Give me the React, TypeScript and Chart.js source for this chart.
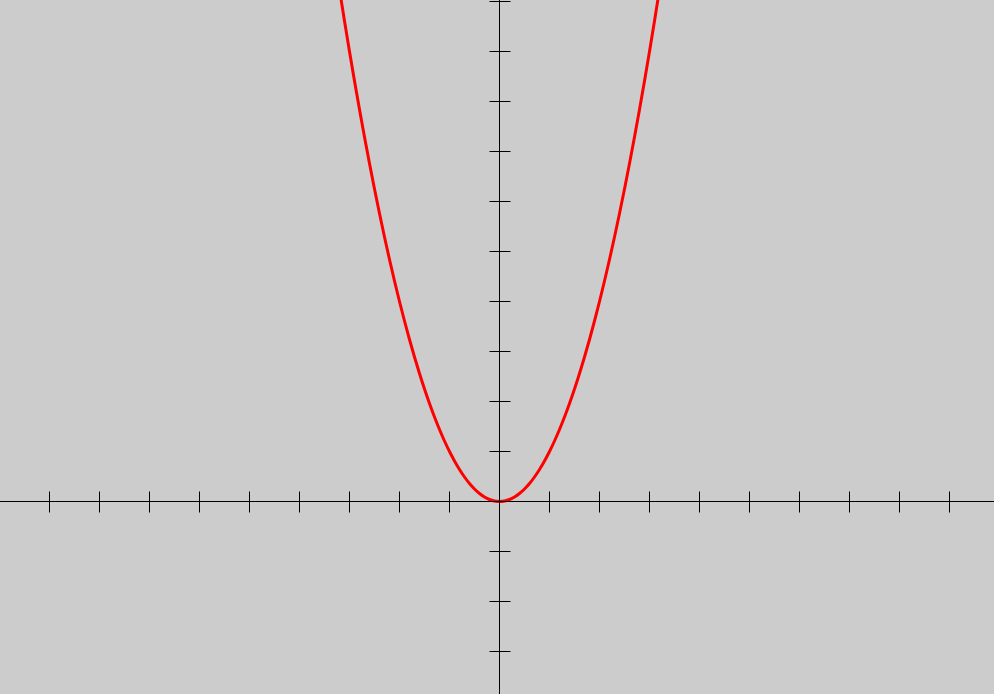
import React, { useEffect, useRef } from "react";
import { Chart, registerables } from "chart.js";

Chart.register(...registerables);

const xValues = [
  -3.2, -3.1, -3.0, -2.9, -2.8, -2.7, -2.6, -2.5, -2.4, -2.3, -2.2, -2.1, -2.0,
  -1.9, -1.8, -1.7, -1.6, -1.5, -1.4, -1.3, -1.2, -1.1, -1.0, -0.9, -0.8, -0.7,
  -0.6, -0.5, -0.4, -0.3, -0.2, -0.1, 0, 0.1, 0.2, 0.3, 0.4, 0.5, 0.6, 0.7, 0.8,
  0.9, 1.0, 1.1, 1.2, 1.3, 1.4, 1.5, 1.6, 1.7, 1.8, 1.9, 2.0, 2.1, 2.2, 2.3, 2.4,
  2.5, 2.6, 2.7, 2.8, 2.9, 3.0, 3.1, 3.2,
];
const yValues = [
  10.24, 9.61, 9.0, 8.41, 7.84, 7.29, 6.76, 6.25, 5.76, 5.29, 4.84, 4.41, 4.0,
  3.61, 3.24, 2.89, 2.56, 2.25, 1.96, 1.69, 1.44, 1.21, 1.0, 0.81, 0.64, 0.49,
  0.36, 0.25, 0.16, 0.09, 0.04, 0.01, 0, 0.01, 0.04, 0.09, 0.16, 0.25, 0.36, 0.49,
  0.64, 0.81, 1.0, 1.21, 1.44, 1.69, 1.96, 2.25, 2.56, 2.89, 3.24, 3.61, 4.0,
  4.41, 4.84, 5.29, 5.76, 6.25, 6.76, 7.29, 7.84, 8.41, 9.0, 9.61, 10.24,
];
const xTicks = [-9, -8, -7, -6, -5, -4, -3, -2, -1, 1, 2, 3, 4, 5, 6, 7, 8, 9];
const yTicks = [-3, -2, -1, 1, 2, 3, 4, 5, 6, 7, 8, 9, 10];

const axesPlugin = {
  id: "centerAxes",
  afterDatasetsDraw(chart: any) {
    const ctx = chart.ctx;
    const xs = chart.scales.x;
    const ys = chart.scales.y;
    const area = chart.chartArea;
    const ox = Math.floor(xs.getPixelForValue(0)) + 0.5;
    const oy = Math.floor(ys.getPixelForValue(0)) + 0.5;
    ctx.save();
    ctx.strokeStyle = "#000000";
    ctx.lineWidth = 1;
    ctx.beginPath();
    ctx.moveTo(area.left, oy);
    ctx.lineTo(area.right, oy);
    ctx.moveTo(ox, area.top);
    ctx.lineTo(ox, area.bottom);
    const len = 10;
    for (const t of xTicks) {
      const px = Math.floor(xs.getPixelForValue(t)) + 0.5;
      ctx.moveTo(px, oy - len);
      ctx.lineTo(px, oy + len + 1);
    }
    for (const t of yTicks) {
      const py = Math.floor(ys.getPixelForValue(t)) + 0.5;
      ctx.moveTo(ox - len, py);
      ctx.lineTo(ox + len + 1, py);
    }
    ctx.stroke();
    ctx.restore();
  },
};

const bgPlugin = {
  id: "bg",
  beforeDraw(chart: any) {
    const ctx = chart.ctx;
    ctx.save();
    ctx.fillStyle = "#cccccc";
    ctx.fillRect(0, 0, chart.width, chart.height);
    ctx.restore();
  },
};

export default function App() {
  const ref = useRef<HTMLCanvasElement>(null);
  useEffect(() => {
    document.body.style.margin = "0";
    document.body.style.background = "#cccccc";
    const canvas = ref.current;
    if (!canvas) return;
    const data = xValues.map((x, i) => ({ x, y: yValues[i] }));
    const chart = new Chart(canvas, {
      type: "scatter",
      data: {
        datasets: [
          {
            data,
            showLine: true,
            borderColor: "#ff0000",
            backgroundColor: "#ff0000",
            borderWidth: 3,
            pointRadius: 0,
            tension: 0.4,
            cubicInterpolationMode: "monotone",
          } as any,
        ],
      },
      options: {
        animation: false,
        responsive: false,
        devicePixelRatio: 1,
        layout: { padding: 0 },
        plugins: { legend: { display: false }, tooltip: { enabled: false } },
        events: [],
        scales: {
          x: { type: "linear", display: false, min: -9.99, max: 9.89 },
          y: { type: "linear", display: false, min: -3.85, max: 10.03 },
        },
      },
      plugins: [bgPlugin, axesPlugin],
    });
    return () => chart.destroy();
  }, []);
  return (
    <canvas
      ref={ref}
      width={994}
      height={694}
      style={{ display: "block", width: 994, height: 694 }}
    />
  );
}
